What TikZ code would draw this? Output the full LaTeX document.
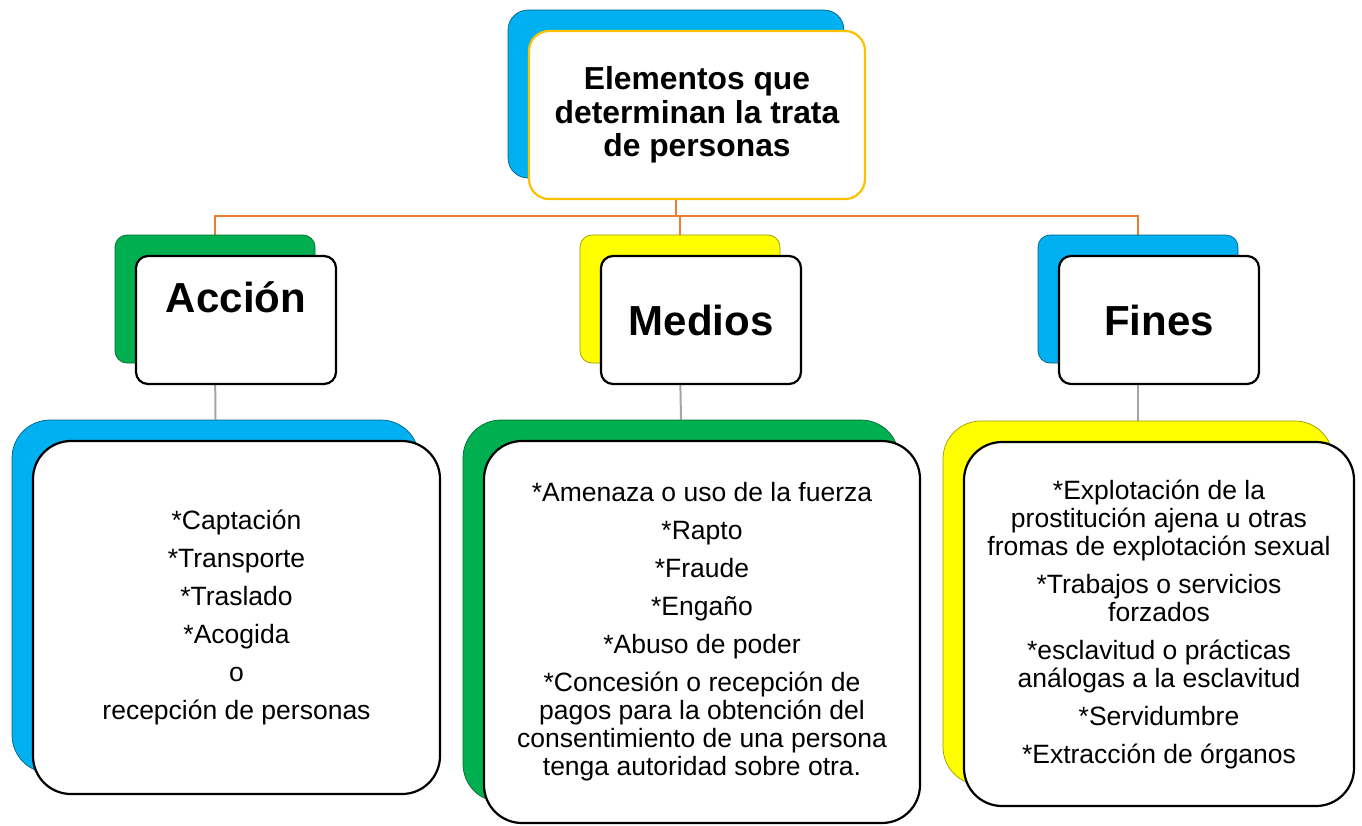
\documentclass[tikz,border=0pt]{standalone}
\usepackage{fontspec}
\setmainfont{Liberation Sans}
\usetikzlibrary{backgrounds}
\definecolor{cblue}{HTML}{00B0F0}
\definecolor{cgreen}{HTML}{00B050}
\definecolor{cyellow}{HTML}{FFFF00}
\definecolor{cgold}{HTML}{FFC000}
\definecolor{corange}{HTML}{ED7D31}
\definecolor{cgray}{HTML}{A5A5A5}

\begin{document}
\begin{tikzpicture}[x=1pt,y=-1pt]
\tikzstyle{every node}=[inner sep=0pt,align=center]
\tikzstyle{back}=[line width=0.7pt]
\tikzstyle{front}=[draw=black,fill=white,line width=2.2pt]
\tikzstyle{headbox}=[minimum width=336pt,minimum height=168pt,rounded corners=20pt]
\tikzstyle{midbox}=[minimum width=200pt,minimum height=128pt,rounded corners=12pt]
\tikzstyle{listbox}=[rounded corners=38pt]
\tikzstyle{link}=[line width=2pt]
\tikzstyle{headtext}=[font=\fontsize{31.8}{33.5}\selectfont\bfseries]
\tikzstyle{midtext}=[font=\fontsize{42}{48}\selectfont\bfseries]
\tikzstyle{listtext}=[font=\fontsize{26.5}{28}\selectfont]
\useasboundingbox (0,0) rectangle (1362,825);
\coordinate (bar) at (0,216);

\node[back,headbox,fill=cblue,draw=cblue!55!black] (topB) at (676,94) {};
\node[front,headbox,headtext,draw=cgold] (top) at (697,115) {Elementos que\\determinan la trata\\de personas};

\node[back,midbox,fill=cgreen,draw=cgreen!60!black] (accB) at (215,299) {};
\node[front,midbox,midtext] (acc) at (236,320) {Acción\\[-16pt]\strut};
\node[back,midbox,fill=cyellow,draw=cyellow!60!black] (medB) at (680,299) {};
\node[front,midbox,midtext] (med) at (701,320) {Medios};
\node[back,midbox,fill=cblue,draw=cblue!55!black] (finB) at (1138,299) {};
\node[front,midbox,midtext] (fin) at (1159,320) {Fines};

\node[back,listbox,fill=cblue,draw=cblue!55!black,minimum width=407pt,minimum height=353pt] (accListB) at (215.5,596.5) {};
\node[front,listbox,listtext,minimum width=407pt,minimum height=353pt] (accList) at (236.5,617.5)
{*Captación\\[10pt]*Transporte\\[10pt]*Traslado\\[10pt]*Acogida\\[10pt]o\\[10pt]recepción de personas};
\node[back,listbox,fill=cgreen,draw=cgreen!60!black,minimum width=436pt,minimum height=382pt] (medListB) at (681,611) {};
\node[front,listbox,listtext,minimum width=436pt,minimum height=382pt] (medList) at (702,632)
{*Amenaza o uso de la fuerza\\[10pt]*Rapto\\[10pt]*Fraude\\[10pt]*Engaño\\[10pt]*Abuso de poder\\[10pt]*Concesión o recepción de\\pagos para la obtención del\\consentimiento de una persona\\tenga autoridad sobre otra.};
\node[back,listbox,fill=cyellow,draw=cyellow!60!black,minimum width=390pt,minimum height=364pt] (finListB) at (1138,603) {};
\node[front,listbox,listtext,minimum width=390pt,minimum height=364pt] (finList) at (1159,624)
{*Explotación de la\\prostitución ajena u otras\\fromas de explotación sexual\\[10pt]*Trabajos o servicios\\forzados\\[10pt]*esclavitud o prácticas\\análogas a la esclavitud\\[10pt]*Servidumbre\\[10pt]*Extracción de órganos};

\begin{scope}[on background layer]
\draw[link,corange] (topB.south) -- (topB.south |- bar) -| (accB.north);
\draw[link,corange] (topB.south |- bar) -| (medB.north);
\draw[link,corange] (topB.south |- bar) -| (finB.north);
\draw[link,cgray] (accB.south) -- (accListB.north);
\draw[link,cgray] (medB.south) -- (medListB.north);
\draw[link,cgray] (finB.south) -- (finListB.north);
\end{scope}
\end{tikzpicture}
\end{document}
